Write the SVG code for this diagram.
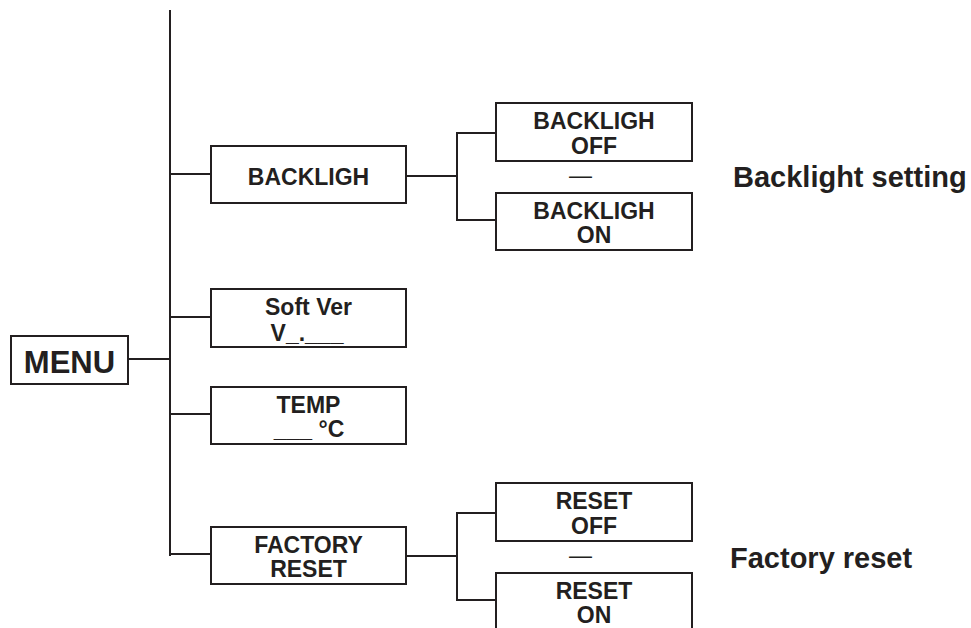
<svg xmlns="http://www.w3.org/2000/svg" width="971" height="628" viewBox="0 0 971 628">
  <style>
    .box { fill: #ffffff; stroke: #231f20; stroke-width: 2; }
    .ln { fill: none; stroke: #231f20; stroke-width: 2; }
    .t { font-family: "Liberation Sans", Arial, sans-serif; font-weight: bold; font-size: 23px; fill: #231f20; text-anchor: middle; }
    .menu { font-size: 31px; }
    .lbl { font-family: "Liberation Sans", Arial, sans-serif; font-weight: bold; font-size: 29px; fill: #231f20; }
    .dash { font-family: "Liberation Sans", Arial, sans-serif; font-size: 23px; fill: #231f20; text-anchor: middle; }
  </style>
  <rect width="971" height="628" fill="#ffffff"/>
  <g id="connectors">
    <line class="ln" x1="170" y1="10" x2="170" y2="556"/>
    <line class="ln" x1="128" y1="359" x2="170" y2="359"/>
    <line class="ln" x1="170" y1="174" x2="211" y2="174"/>
    <line class="ln" x1="170" y1="317" x2="211" y2="317"/>
    <line class="ln" x1="170" y1="414" x2="211" y2="414"/>
    <line class="ln" x1="170" y1="554" x2="211" y2="554"/>
    <line class="ln" x1="406" y1="176" x2="457" y2="176"/>
    <polyline class="ln" points="496,133 457,133 457,220 496,220"/>
    <line class="ln" x1="406" y1="556" x2="457" y2="556"/>
    <polyline class="ln" points="496,513 457,513 457,600 496,600"/>
  </g>
  <g id="menu">
    <rect class="box" x="11" y="336" width="117" height="48"/>
    <text class="t menu" x="69.5" y="373">MENU</text>
  </g>
  <g id="backligh">
    <rect class="box" x="211" y="146" width="195" height="57"/>
    <text class="t" x="308.5" y="185">BACKLIGH</text>
  </g>
  <g id="softver">
    <rect class="box" x="211" y="289" width="195" height="58"/>
    <text class="t"><tspan x="308.5" y="315">Soft Ver</tspan><tspan x="307" y="341">V_.___</tspan></text>
  </g>
  <g id="temp">
    <rect class="box" x="211" y="387" width="195" height="57"/>
    <text class="t"><tspan x="308.5" y="413">TEMP</tspan><tspan x="309" y="437">___ °C</tspan></text>
  </g>
  <g id="factory">
    <rect class="box" x="211" y="527" width="195" height="57"/>
    <text class="t"><tspan x="308.5" y="552.5">FACTORY</tspan><tspan x="308.5" y="576.5">RESET</tspan></text>
  </g>
  <g id="backligh-off">
    <rect class="box" x="496" y="103" width="196" height="58"/>
    <text class="t"><tspan x="594" y="129">BACKLIGH</tspan><tspan x="594" y="154">OFF</tspan></text>
  </g>
  <g id="backligh-sep">
    <text class="dash" x="580.5" y="183">—</text>
  </g>
  <g id="backligh-on">
    <rect class="box" x="496" y="193" width="196" height="57"/>
    <text class="t"><tspan x="594" y="219">BACKLIGH</tspan><tspan x="594" y="243">ON</tspan></text>
  </g>
  <g id="backlight-label">
    <text class="lbl" x="733" y="187">Backlight setting</text>
  </g>
  <g id="reset-off">
    <rect class="box" x="496" y="483" width="196" height="58"/>
    <text class="t"><tspan x="594" y="509">RESET</tspan><tspan x="594" y="534">OFF</tspan></text>
  </g>
  <g id="reset-sep">
    <text class="dash" x="580.5" y="563">—</text>
  </g>
  <g id="reset-on">
    <rect class="box" x="496" y="573" width="196" height="58"/>
    <text class="t"><tspan x="594" y="599">RESET</tspan><tspan x="594" y="623">ON</tspan></text>
  </g>
  <g id="factory-label">
    <text class="lbl" x="730" y="568">Factory reset</text>
  </g>
</svg>
